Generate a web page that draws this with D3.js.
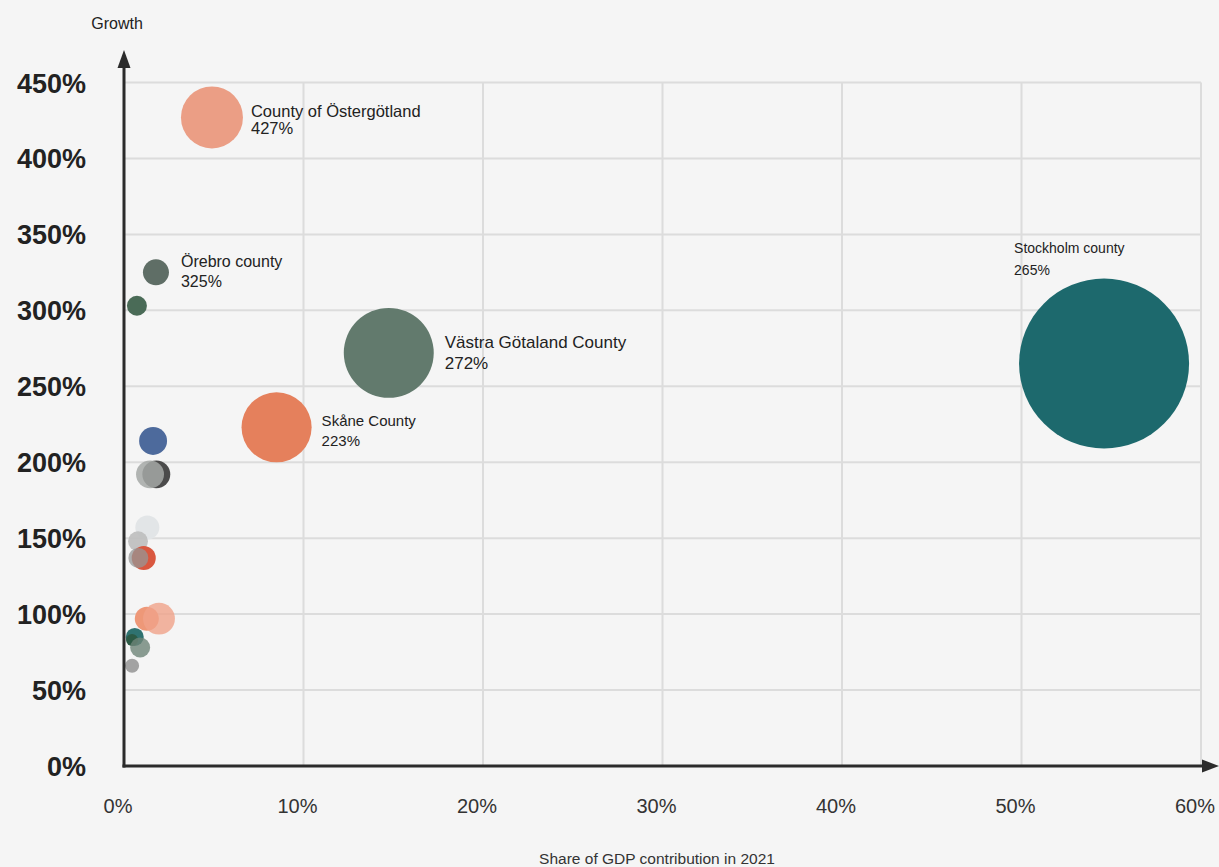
<!DOCTYPE html>
<html>
<head>
<meta charset="utf-8">
<script src="https://cdn.jsdelivr.net/npm/d3@7/dist/d3.min.js"></script>
<style>
  html, body { margin: 0; padding: 0; background: #f5f5f5; }
  svg { display: block; font-family: "Liberation Sans", Arial, sans-serif; }
</style>
</head>
<body>
<svg id="chart" width="1219" height="867"></svg>
<script>
// County data: GDP share (%), growth (%), bubble size (relative units)
const counties = [
  "Stockholm county", "Västra Götaland County", "Skåne County", "County of Östergötland",
  "Örebro county", "c6", "c7", "c8", "c9", "c10", "c11", "c12", "c13", "c14", "c15",
  "c16", "c17", "c18", "c19"
];
const gdpShare = [54.6, 14.75, 8.5, 4.9, 1.78, 0.72, 1.62, 1.8, 1.45, 1.3, 0.78, 1.1, 0.8, 1.27, 1.95, 0.6, 0.45, 0.9, 0.45];
const growth   = [265, 272, 223, 427, 325, 303, 214, 192, 192, 157, 148, 137, 137, 97, 97, 85, 83, 78, 66];
const bubbleSize = [100, 28, 17, 13.3, 2.34, 1.38, 2.7, 2.7, 2.7, 2.0, 1.38, 2.0, 1.38, 2.0, 3.5, 1.12, 0.5, 1.38, 0.68];
const labelled = [true, true, true, true, true, false, false, false, false, false, false, false, false, false, false, false, false, false, false];

const xTicks = [0, 10, 20, 30, 40, 50, 60];
const yTicks = [0, 50, 100, 150, 200, 250, 300, 350, 400, 450];

// Fill colours, one per bubble
const fills = [
  "#1d696d", "#627a6d", "#e5805c", "#eb9e85", "#5f6e66", "#4a6b57",
  "#4d6a9c", "#4b4b4b", "rgba(165,168,166,0.85)", "#e2e5e7", "rgba(190,190,190,0.9)",
  "#d9573f", "rgba(150,150,150,0.75)", "#ee9878", "rgba(240,162,138,0.8)",
  "#2f7270", "#2c5a45", "rgba(110,132,120,0.8)", "#a3a3a3"
];

// Label placement relative to each bubble: dx from right edge, first baseline dy from centre
const labelLayout = {
  "Stockholm county":       { mode: "above", dx: -90, dy: -110, size: 14, lh: 22 },
  "Västra Götaland County": { mode: "right", dx: 11, dy: -5, size: 17, lh: 21 },
  "Skåne County":           { mode: "right", dx: 10, dy: -1, size: 15, lh: 20 },
  "County of Östergötland": { mode: "right", dx: 8,  dy: 0,  size: 16.5, lh: 17 },
  "Örebro county":          { mode: "right", dx: 12, dy: -5, size: 16, lh: 20 }
};

const svg = d3.select("#chart");
const x = d3.scaleLinear().domain([0, 60]).range([124, 1201]);
const y = d3.scaleLinear().domain([0, 450]).range([766, 82.5]);
const r = d3.scaleSqrt().domain([0, 100]).range([0, 85]);

// Grid
svg.append("g").selectAll("line").data(xTicks.slice(1)).join("line")
  .attr("x1", d => x(d)).attr("x2", d => x(d))
  .attr("y1", y(450)).attr("y2", y(0))
  .attr("stroke", "#dcdcdc").attr("stroke-width", 2);
svg.append("g").selectAll("line").data(yTicks.slice(1)).join("line")
  .attr("x1", x(0)).attr("x2", x(60))
  .attr("y1", d => y(d)).attr("y2", d => y(d))
  .attr("stroke", "#dcdcdc").attr("stroke-width", 2);

// Tick labels
svg.append("g").selectAll("text").data(yTicks).join("text")
  .attr("x", 86).attr("y", d => y(d) + 10)
  .attr("text-anchor", "end")
  .attr("font-size", 27).attr("font-weight", "bold").attr("fill", "#222")
  .text(d => d + "%");
svg.append("g").selectAll("text").data(xTicks).join("text")
  .attr("x", d => x(d) - 6).attr("y", 813)
  .attr("text-anchor", "middle")
  .attr("font-size", 20).attr("fill", "#333")
  .text(d => d + "%");

// Bubbles
const data = counties.map((name, i) => ({
  name, share: gdpShare[i], growth: growth[i], size: bubbleSize[i], labelled: labelled[i], fill: fills[i]
}));
svg.append("g").selectAll("circle").data(data).join("circle")
  .attr("cx", d => x(d.share)).attr("cy", d => y(d.growth))
  .attr("r", d => r(d.size))
  .attr("fill", d => d.fill);

// Labels
const lab = svg.append("g").selectAll("text").data(data.filter(d => d.labelled)).join("text")
  .attr("fill", "#222")
  .attr("font-size", d => labelLayout[d.name].size)
  .attr("transform", d => {
    const L = labelLayout[d.name];
    const cx = x(d.share), cy = y(d.growth), rr = r(d.size);
    const tx = L.mode === "right" ? cx + rr + L.dx : cx + L.dx;
    return `translate(${tx},${cy + L.dy})`;
  });
lab.append("tspan").attr("x", 0).attr("y", 0).text(d => d.name);
lab.append("tspan").attr("x", 0).attr("y", d => labelLayout[d.name].lh).text(d => d.growth + "%");

// Axes with arrowheads
const ax = svg.append("g").attr("stroke", "#2b2b2b").attr("fill", "#2b2b2b");
ax.append("line").attr("x1", x(0)).attr("x2", x(0)).attr("y1", y(0) + 1.5).attr("y2", 62).attr("stroke-width", 3);
ax.append("path").attr("stroke", "none").attr("d", `M${x(0)},50 L${x(0) - 6.5},68 L${x(0) + 6.5},68 Z`);
ax.append("line").attr("x1", x(0) - 1.5).attr("x2", 1208).attr("y1", y(0)).attr("y2", y(0)).attr("stroke-width", 3);
ax.append("path").attr("stroke", "none").attr("d", `M1219,${y(0)} L1202,${y(0) - 6.5} L1202,${y(0) + 6.5} Z`);

// Axis titles
svg.append("text").attr("x", 117).attr("y", 29).attr("text-anchor", "middle")
  .attr("font-size", 16).attr("fill", "#222").text("Growth");
svg.append("text").attr("x", 657).attr("y", 864).attr("text-anchor", "middle")
  .attr("font-size", 15.5).attr("fill", "#333").text("Share of GDP contribution in 2021");
</script>
</body>
</html>
